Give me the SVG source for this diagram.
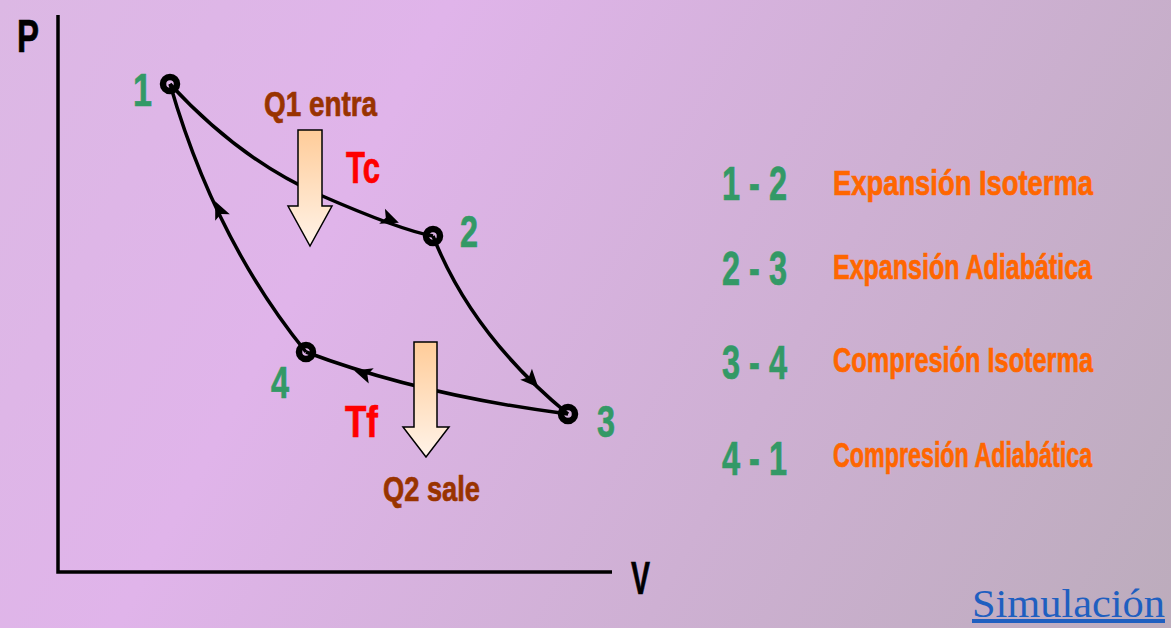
<svg xmlns="http://www.w3.org/2000/svg" xmlns:xlink="http://www.w3.org/1999/xlink" width="1171" height="628" viewBox="0 0 1171 628">
<defs>
<linearGradient id="bg" x1="0" y1="0" x2="1171" y2="628" gradientUnits="userSpaceOnUse">
<stop offset="0" stop-color="#dcb8e4"/>
<stop offset="0.3" stop-color="#e0b4ea"/>
<stop offset="1" stop-color="#bcacbc"/>
</linearGradient>
<linearGradient id="heat" x1="0" y1="0" x2="0" y2="1">
<stop offset="0" stop-color="#ffcc99"/>
<stop offset="1" stop-color="#fff3e8"/>
</linearGradient>
<polygon id="ah" points="2,0 -16,-8 -12,0 -16,8" fill="#000"/>
<style>
.t{font-family:"Liberation Sans Narrow","Liberation Sans",Arial,sans-serif;font-weight:bold;stroke-width:0.7}
.g{fill:#339966;stroke:#339966}
.o{fill:#ff6600;stroke:#ff6600;font-size:35px}
.br{fill:#993300;stroke:#993300}
.r{fill:#ff0000;stroke:#ff0000}
.k{fill:#000;stroke:#000}
.ax{stroke:#000;stroke-width:3.5;fill:none}
.c{stroke:#000;stroke-width:3.5;fill:none}
.pt{stroke:#000;stroke-width:6.5;fill:none}
.ha{fill:url(#heat);stroke:#000;stroke-width:1.5}
</style>
</defs>
<rect width="1171" height="628" fill="url(#bg)"/>
<g id="axes">
<path class="ax" d="M58,15 V572 H612"/>
<text class="t k" x="17" y="52" font-size="47" textLength="22" lengthAdjust="spacingAndGlyphs">P</text>
<text class="t k" x="631" y="594" font-size="47" textLength="19" lengthAdjust="spacingAndGlyphs">V</text>
</g>
<g id="connectors">
<path class="c" d="M170,84 Q240,160 320,195 T433,236"/>
<path class="c" d="M433,236 Q472,335 568,414"/>
<path class="c" d="M568,414 Q420,395 306,352"/>
<path class="c" d="M306,352 Q215,240 170,84"/>
<use xlink:href="#ah" transform="translate(397,222) rotate(21)"/>
<use xlink:href="#ah" transform="translate(537,386) rotate(47)"/>
<use xlink:href="#ah" transform="translate(356,371) rotate(-162)"/>
<use xlink:href="#ah" transform="translate(216,203) rotate(-114)"/>
</g>
<g id="p1"><circle class="pt" cx="170" cy="84" r="7"/><text class="t g" x="133" y="106" font-size="46" textLength="19" lengthAdjust="spacingAndGlyphs">1</text></g>
<g id="p2"><circle class="pt" cx="433" cy="236" r="7"/><text class="t g" x="460" y="247" font-size="44" textLength="18" lengthAdjust="spacingAndGlyphs">2</text></g>
<g id="p3"><circle class="pt" cx="568" cy="414" r="7"/><text class="t g" x="597" y="437" font-size="44" textLength="18" lengthAdjust="spacingAndGlyphs">3</text></g>
<g id="p4"><circle class="pt" cx="306" cy="352" r="7"/><text class="t g" x="271" y="398" font-size="44" textLength="18" lengthAdjust="spacingAndGlyphs">4</text></g>
<g id="q1">
<polygon class="ha" points="298,130 322,130 322,206 332,206 310,246 288,206 298,206"/>
<text class="t br" x="264" y="116" font-size="35" textLength="113" lengthAdjust="spacingAndGlyphs">Q1 entra</text>
<text class="t r" x="346" y="183" font-size="44" textLength="34" lengthAdjust="spacingAndGlyphs">Tc</text>
</g>
<g id="q2">
<polygon class="ha" points="414,342 437,342 437,427 449,427 426,457 403,427 414,427"/>
<text class="t br" x="383" y="501" font-size="35" textLength="97" lengthAdjust="spacingAndGlyphs">Q2 sale</text>
<text class="t r" x="345" y="437" font-size="44" textLength="33" lengthAdjust="spacingAndGlyphs">Tf</text>
</g>
<g id="legend">
<text class="t g" x="722" y="200" font-size="48" textLength="65" lengthAdjust="spacingAndGlyphs">1 - 2</text>
<text class="t o" transform="translate(833,195) scale(0.782,1)">Expansión Isoterma</text>
<text class="t g" x="722" y="285" font-size="48" textLength="65" lengthAdjust="spacingAndGlyphs">2 - 3</text>
<text class="t o" transform="translate(833,279) scale(0.715,1)">Expansión Adiabática</text>
<text class="t g" x="722" y="379" font-size="48" textLength="65" lengthAdjust="spacingAndGlyphs">3 - 4</text>
<text class="t o" transform="translate(833,372) scale(0.723,1)">Compresión Isoterma</text>
<text class="t g" x="722" y="475" font-size="48" textLength="65" lengthAdjust="spacingAndGlyphs">4 - 1</text>
<text class="t o" transform="translate(833,467) scale(0.665,1)">Compresión Adiabática</text>
</g>
<g id="link">
<text x="972" y="617" font-family="'Liberation Serif','Times New Roman',serif" font-size="40" fill="#1f5fc0" text-decoration="underline" textLength="193" lengthAdjust="spacingAndGlyphs">Simulación</text>
</g>
</svg>
